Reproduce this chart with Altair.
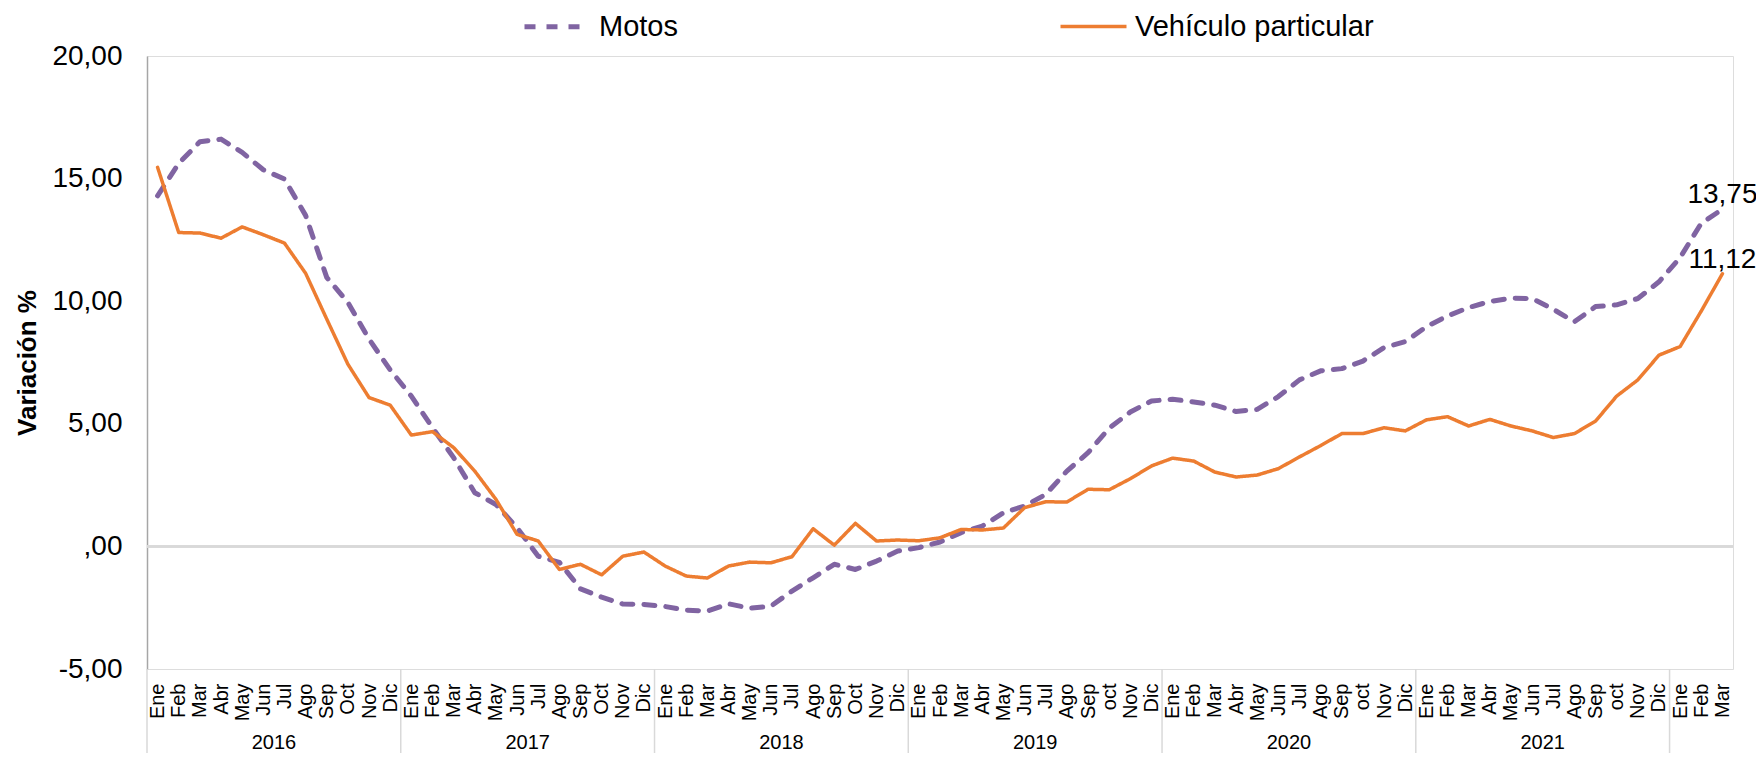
import altair as alt
import pandas as pd

# ---------------- data ----------------
years = [2016, 2017, 2018, 2019, 2020, 2021, 2022]
months_a = ["Ene", "Feb", "Mar", "Abr", "May", "Jun", "Jul", "Ago", "Sep", "Oct", "Nov", "Dic"]
months_b = ["Ene", "Feb", "Mar", "Abr", "May", "Jun", "Jul", "Ago", "Sep", "oct", "Nov", "Dic"]
months_2022 = ["Ene", "Feb", "Mar"]

motos = [
    14.30, 15.62, 16.50, 16.61, 16.07, 15.36, 14.98, 13.50, 10.97, 9.95, 8.45, 7.20,
    6.13, 4.84, 3.62, 2.19, 1.71, 0.76, -0.40, -0.65, -1.73, -2.07, -2.35, -2.37,
    -2.45, -2.60, -2.64, -2.34, -2.52, -2.44, -1.82, -1.28, -0.73, -0.94, -0.60, -0.19,
    -0.05, 0.18, 0.56, 0.83, 1.37, 1.65, 2.12, 3.07, 3.82, 4.82, 5.48, 5.93,
    6.00, 5.89, 5.76, 5.50, 5.59, 6.11, 6.79, 7.16, 7.25, 7.56, 8.11, 8.35,
    8.96, 9.40, 9.74, 9.99, 10.12, 10.11, 9.67, 9.16, 9.78, 9.85, 10.11, 10.79,
    11.78, 13.18, 13.75,
]
vehiculo = [
    15.46, 12.80, 12.78, 12.57, 13.03, 12.71, 12.37, 11.14, 9.27, 7.43, 6.07, 5.76,
    4.54, 4.68, 4.03, 3.07, 1.92, 0.49, 0.22, -0.94, -0.73, -1.16, -0.40, -0.23,
    -0.80, -1.21, -1.29, -0.80, -0.64, -0.67, -0.42, 0.72, 0.05, 0.94, 0.22, 0.26,
    0.23, 0.35, 0.69, 0.67, 0.75, 1.58, 1.82, 1.81, 2.33, 2.31, 2.76, 3.28,
    3.60, 3.48, 3.03, 2.83, 2.91, 3.17, 3.65, 4.11, 4.60, 4.60, 4.84, 4.71,
    5.16, 5.29, 4.91, 5.18, 4.91, 4.71, 4.44, 4.60, 5.11, 6.13, 6.79, 7.80,
    8.15, 9.60, 11.12,
]
series_names = ["Motos", "Vehículo particular"]
series_colors = ["#8064A2", "#ED7D31"]
y_ticks = [-5, 0, 5, 10, 15, 20]

# ---------------- tables ----------------
labels, label_years = [], []
for y in years:
    ms = months_2022 if y == 2022 else (months_a if y <= 2018 else months_b)
    for m in ms:
        labels.append(m)
        label_years.append(y)
keys = [f"{i:02d}|{m}" for i, m in enumerate(labels)]

rows = []
for name, vals in zip(series_names, [motos, vehiculo]):
    for k, v in zip(keys, vals):
        rows.append({"key": k, "series": name, "value": v})
df = pd.DataFrame(rows)

year_start_keys = [keys[label_years.index(y)] for y in years]
sep_df = pd.DataFrame({"key": year_start_keys})
year_lbl_df = pd.DataFrame({
    "key": [keys[label_years.index(y) + 5] for y in years if y != 2022],
    "year": [str(y) for y in years if y != 2022],
})
last_df = df[df["key"] == keys[-1]].copy()

W, H = 1586, 613
step = W / len(keys)
FONT = "Liberation Sans"
NUMFMT = "replace(replace(format(datum.value, '.2f'), '.', ','), '\u2212', '-')"

xscale = alt.Scale(type="point", padding=0.5)
x_enc = alt.X(
    "key:O", sort=keys, scale=xscale,
    axis=alt.Axis(
        title=None, labelExpr="split(datum.label, '|')[1]", labelAngle=270,
        labelAlign="right", labelBaseline="middle", ticks=False, domain=False,
        grid=False, labelPadding=14, labelFontSize=20, labelFont=FONT,
        labelColor="#000000", labelOverlap=False, labelBound=False, labelFlush=False,
    ),
)
y_enc = alt.Y(
    "value:Q",
    scale=alt.Scale(domain=[-5, 20], nice=False, zero=False),
    axis=alt.Axis(
        values=y_ticks,
        labelExpr="datum.value == 0 ? ',00' : " + NUMFMT,
        grid=False, ticks=False, domain=True, domainColor="#A6A6A6", domainWidth=1.5,
        labelFontSize=28, labelFont=FONT, labelColor="#000000", labelPadding=25,
        title="Variación %", titleFontSize=26, titleFont=FONT, titleFontWeight="bold",
        titleColor="#000000", titlePadding=11,
    ),
)

leg = alt.Legend(
    title=None, orient="none", legendX=375, legendY=-65, direction="horizontal",
    columns=2, gridAlign="each", columnPadding=375, symbolType="stroke",
    symbolSize=4356, labelFontSize=29, labelFont=FONT, labelColor="#000000",
    labelOffset=6, labelLimit=400,
)
dom = series_names

zero_rule = alt.Chart(df).mark_rule(color="#D9D9D9", strokeWidth=2).encode(
    y=alt.datum(0)
)

lines = alt.Chart(df).mark_line(strokeCap="round", strokeJoin="round").encode(
    x=x_enc,
    y=y_enc,
    color=alt.Color("series:N", scale=alt.Scale(domain=dom, range=series_colors), legend=leg),
    strokeDash=alt.StrokeDash("series:N", scale=alt.Scale(domain=dom, range=[[11, 11], [1, 0]]), legend=leg),
    strokeWidth=alt.StrokeWidth("series:N", scale=alt.Scale(domain=dom, range=[5, 3.5]), legend=leg),
)

end_labels = alt.Chart(last_df).mark_text(
    fontSize=28, font=FONT, color="#000000", dy=-6, baseline="alphabetic", align="center"
).transform_calculate(
    lbl=NUMFMT
).encode(
    x=alt.X("key:O", sort=keys, scale=xscale),
    y=alt.Y("value:Q"),
    text="lbl:N",
)

seps = alt.Chart(sep_df).mark_rule(color="#D9D9D9", strokeWidth=1.5, xOffset=-step / 2).encode(
    x=alt.X("key:O", sort=keys, scale=xscale),
    y=alt.value(H),
    y2=alt.value(H + 84),
)

year_text = alt.Chart(year_lbl_df).mark_text(
    fontSize=20, font=FONT, color="#000000", dx=step / 2, baseline="bottom", align="center"
).encode(
    x=alt.X("key:O", sort=keys, scale=xscale),
    y=alt.value(H + 84),
    text="year:N",
)

chart = alt.layer(zero_rule, seps, lines, end_labels, year_text).properties(
    width=W, height=H,
    autosize=alt.AutoSizeParams(type="none"),
    padding={"left": 139, "top": 48, "right": 23, "bottom": 84},
).configure_view(stroke=None).configure(background="white")

chart.save("out.html", embed_options={"renderer": "svg", "actions": False})
